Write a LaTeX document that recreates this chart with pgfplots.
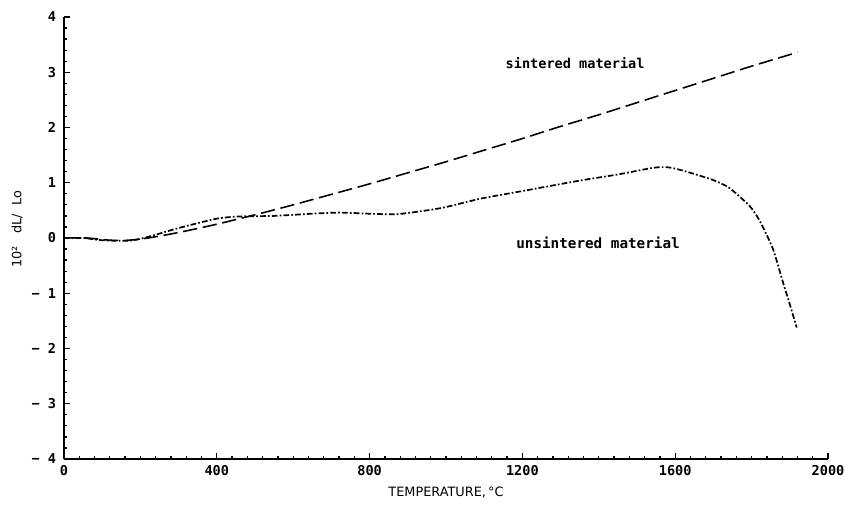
\documentclass[border=0pt]{standalone}
\usepackage{pgfplots}
\pgfplotsset{compat=1.18}
\usepackage{fontspec}
\setmainfont{DejaVu Sans}
\newfontfamily\plotmono{DejaVu Sans Mono}

\pgfplotstableread{
T dl
0 0
60 0
120 -0.04
170 -0.04
220 0.0
300 0.10
400 0.25
500 0.42
600 0.60
700 0.79
800 0.98
900 1.18
1000 1.38
1100 1.59
1200 1.80
1300 2.02
1400 2.23
1500 2.45
1600 2.67
1700 2.89
1800 3.11
1920 3.36
}\sintered

\pgfplotstableread{
T dl
0 0
50 0
100 -0.04
170 -0.05
220 0.02
300 0.18
400 0.35
461 0.39
550 0.40
650 0.44
722 0.46
800 0.44
870 0.43
950 0.50
1000 0.56
1089 0.71
1200 0.85
1351 1.04
1450 1.15
1542 1.27
1580 1.28
1620 1.22
1699 1.05
1743 0.90
1796 0.57
1822 0.30
1856 -0.20
1882 -0.80
1900 -1.20
1918 -1.62
}\unsintered

\begin{document}
\begin{tikzpicture}
\begin{axis}[
    name=ax,
    scale only axis,
    width=534.8pt, height=309.4pt,
    xmin=0, xmax=2000, ymin=-4, ymax=4,
    axis x line*=bottom, axis y line*=left,
    axis line style={line width=1pt},
    xtick={0,400,800,1200,1600,2000},
    xticklabels={0,400,800,1200,1600,2000},
    ytick={-4,-3,-2,-1,0,1,2,3,4},
    yticklabels={− 4,− 3,− 2,− 1,0,1,2,3,4},
    minor x tick num=9, minor y tick num=4,
    tick align=inside,
    major tick length=4pt, minor tick length=2.2pt,
    tick style={line width=0.9pt, black},
    ticklabel style={font=\plotmono\bfseries\fontsize{9.5}{11}\selectfont},
    xticklabel style={yshift=-1pt},
    yticklabel style={xshift=-2pt},
    xlabel={TEMPERATURE,\,°C},
    ylabel={10²\ \ \ dL/\ \ Lo},
    label style={font=\fontsize{9}{10}\selectfont},
    xlabel style={at={(axis description cs:0.5,-0.075)}, anchor=center},
    ylabel style={at={(axis description cs:-0.0615,0.52)}, anchor=center, rotate=0},
]
\addplot[black, line width=1.1pt, dash pattern=on 10pt off 4pt, smooth] table[x=T, y=dl] {\sintered};
\addplot[black, line width=1.2pt, dash pattern=on 4pt off 1.5pt on 1.2pt off 1.5pt, smooth, tension=0.4] table[x=T, y=dl] {\unsintered};
\node[font=\plotmono\bfseries\fontsize{9.5}{12}\selectfont] at (axis cs:1338,3.17) {sintered material};
\node[font=\plotmono\bfseries\fontsize{10}{12}\selectfont] at (axis cs:1398,-0.09) {unsintered material};
\end{axis}
\pgfresetboundingbox
\path (ax.south west) ++(-44.8pt,-32.9pt) rectangle ([xshift=546.7pt, yshift=321.3pt]ax.south west);
\end{tikzpicture}
\end{document}
